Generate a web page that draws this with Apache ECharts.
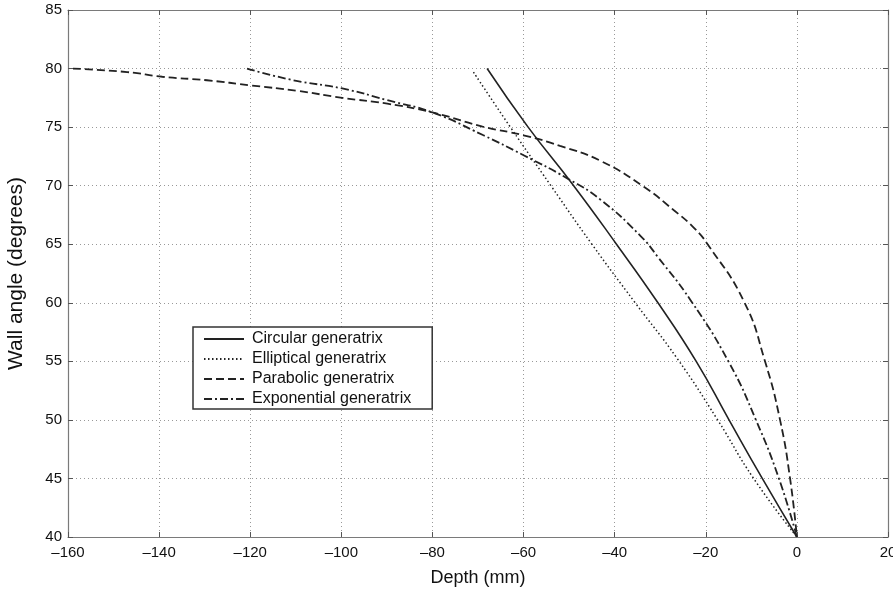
<!DOCTYPE html>
<html>
<head>
<meta charset="utf-8">
<script src="https://cdn.jsdelivr.net/npm/echarts@6/dist/echarts.min.js"></script>
<style>
  html, body { margin: 0; padding: 0; background: #fff; }
  #chart { width: 893px; height: 592px; }
</style>
</head>
<body>
<div id="chart"></div>
<script>
// values: [depth (mm), wall angle (deg)]
var circular = [[-68, 80], [-59, 75], [-49, 70], [-39.6, 65], [-30.5, 60], [-22.1, 55], [-14.9, 50],
    [-7.6, 45], [0, 40]];
var elliptical = [[-71, 79.7], [-62.9, 75], [-54, 70], [-45, 65], [-35.5, 60], [-26.2, 55.2], [-17.4, 50],
    [-9.5, 45], [0, 40]];
var parabolic = [[-158.9, 80], [-147, 79.7], [-139.3, 79.3], [-129.5, 79], [-119.6, 78.55], [-109.7, 78.1],
    [-99.8, 77.5], [-89.9, 77], [-80, 76.25], [-69, 75.05], [-60, 74.3], [-52, 73.4], [-43, 72.1], [-33.6, 69.9],
    [-27, 67.9], [-22.6, 66.4], [-19.6, 65], [-11.6, 60.1], [-7, 55], [-3.7, 50], [-1.5, 45], [0, 40]];
var exponential = [[-120.7, 80], [-110.5, 79], [-99.8, 78.3], [-89.9, 77.3], [-80, 76.25], [-68.8, 74.3],
    [-60, 72.6], [-50.3, 70.6], [-43.1, 68.8], [-34.3, 65.7], [-30.5, 63.9], [-23.3, 60.2],
    [-14.9, 54.9], [-9, 50], [-3.95, 45], [0, 40]];
var seriesNames = ["Circular generatrix", "Elliptical generatrix", "Parabolic generatrix", "Exponential generatrix"];

var ink = "#222";
var font = "Liberation Sans, Arial, sans-serif";

function minusFmt(v) {
    return String(v).replace("-", "\u2013");
}

var gridLine = { show: true, lineStyle: { color: "#999", type: [1, 3], width: 1 } };
var frame = { show: true, onZero: false, lineStyle: { color: "#7a7a7a", width: 1.2 } };
var ticks = { show: true, inside: true, length: 5, lineStyle: { color: "#555" } };

function mkSeries(name, data, type, width) {
    return {
        name: name,
        type: "line",
        data: data,
        symbol: "none",
        smooth: 0.5,
        lineStyle: { color: ink, width: width, type: type },
        itemStyle: { color: ink }
    };
}

var chart = echarts.init(document.getElementById("chart"));
chart.setOption({
    animation: false,
    grid: { left: 68, right: 5, top: 10, bottom: 55, outerBoundsMode: "none" },
    legend: {
        orient: "vertical",
        left: 193,
        top: 327,
        data: seriesNames,
        itemWidth: 40,
        itemHeight: 14,
        itemGap: 4,
        padding: [4, 21, 2, 10],
        borderColor: "#333",
        borderWidth: 1.5,
        backgroundColor: "#fff",
        itemStyle: { opacity: 0 },
        textStyle: { fontFamily: font, fontSize: 16, lineHeight: 16, color: "#111", padding: [0, 0, 0, 3] }
    },
    xAxis: [{
        type: "value",
        min: -160, max: 20, interval: 20,
        name: "Depth (mm)",
        nameLocation: "middle",
        nameGap: 32,
        nameTextStyle: { fontFamily: font, fontSize: 18, color: "#111" },
        axisLine: frame,
        axisTick: ticks,
        axisLabel: { fontFamily: font, fontSize: 15, color: "#111", formatter: minusFmt, margin: 8 },
        splitLine: gridLine
    }, {
        type: "value",
        position: "top",
        min: -160, max: 20, interval: 20,
        axisLine: frame,
        axisTick: ticks,
        axisLabel: { show: false },
        splitLine: { show: false }
    }],
    yAxis: [{
        type: "value",
        min: 40, max: 85, interval: 5,
        name: "Wall angle (degrees)",
        nameLocation: "middle",
        nameGap: 41,
        nameTextStyle: { fontFamily: font, fontSize: 21, color: "#111" },
        axisLine: frame,
        axisTick: ticks,
        axisLabel: { fontFamily: font, fontSize: 15, color: "#111", margin: 6 },
        splitLine: gridLine
    }, {
        type: "value",
        position: "right",
        min: 40, max: 85, interval: 5,
        axisLine: frame,
        axisTick: ticks,
        axisLabel: { show: false },
        splitLine: { show: false }
    }],
    series: [
        mkSeries(seriesNames[0], circular, "solid", 1.6),
        mkSeries(seriesNames[1], elliptical, [1.5, 2.5], 1.5),
        mkSeries(seriesNames[2], parabolic, [8, 4], 1.8),
        mkSeries(seriesNames[3], exponential, [8, 3, 2, 3], 1.8)
    ]
});
</script>
</body>
</html>
